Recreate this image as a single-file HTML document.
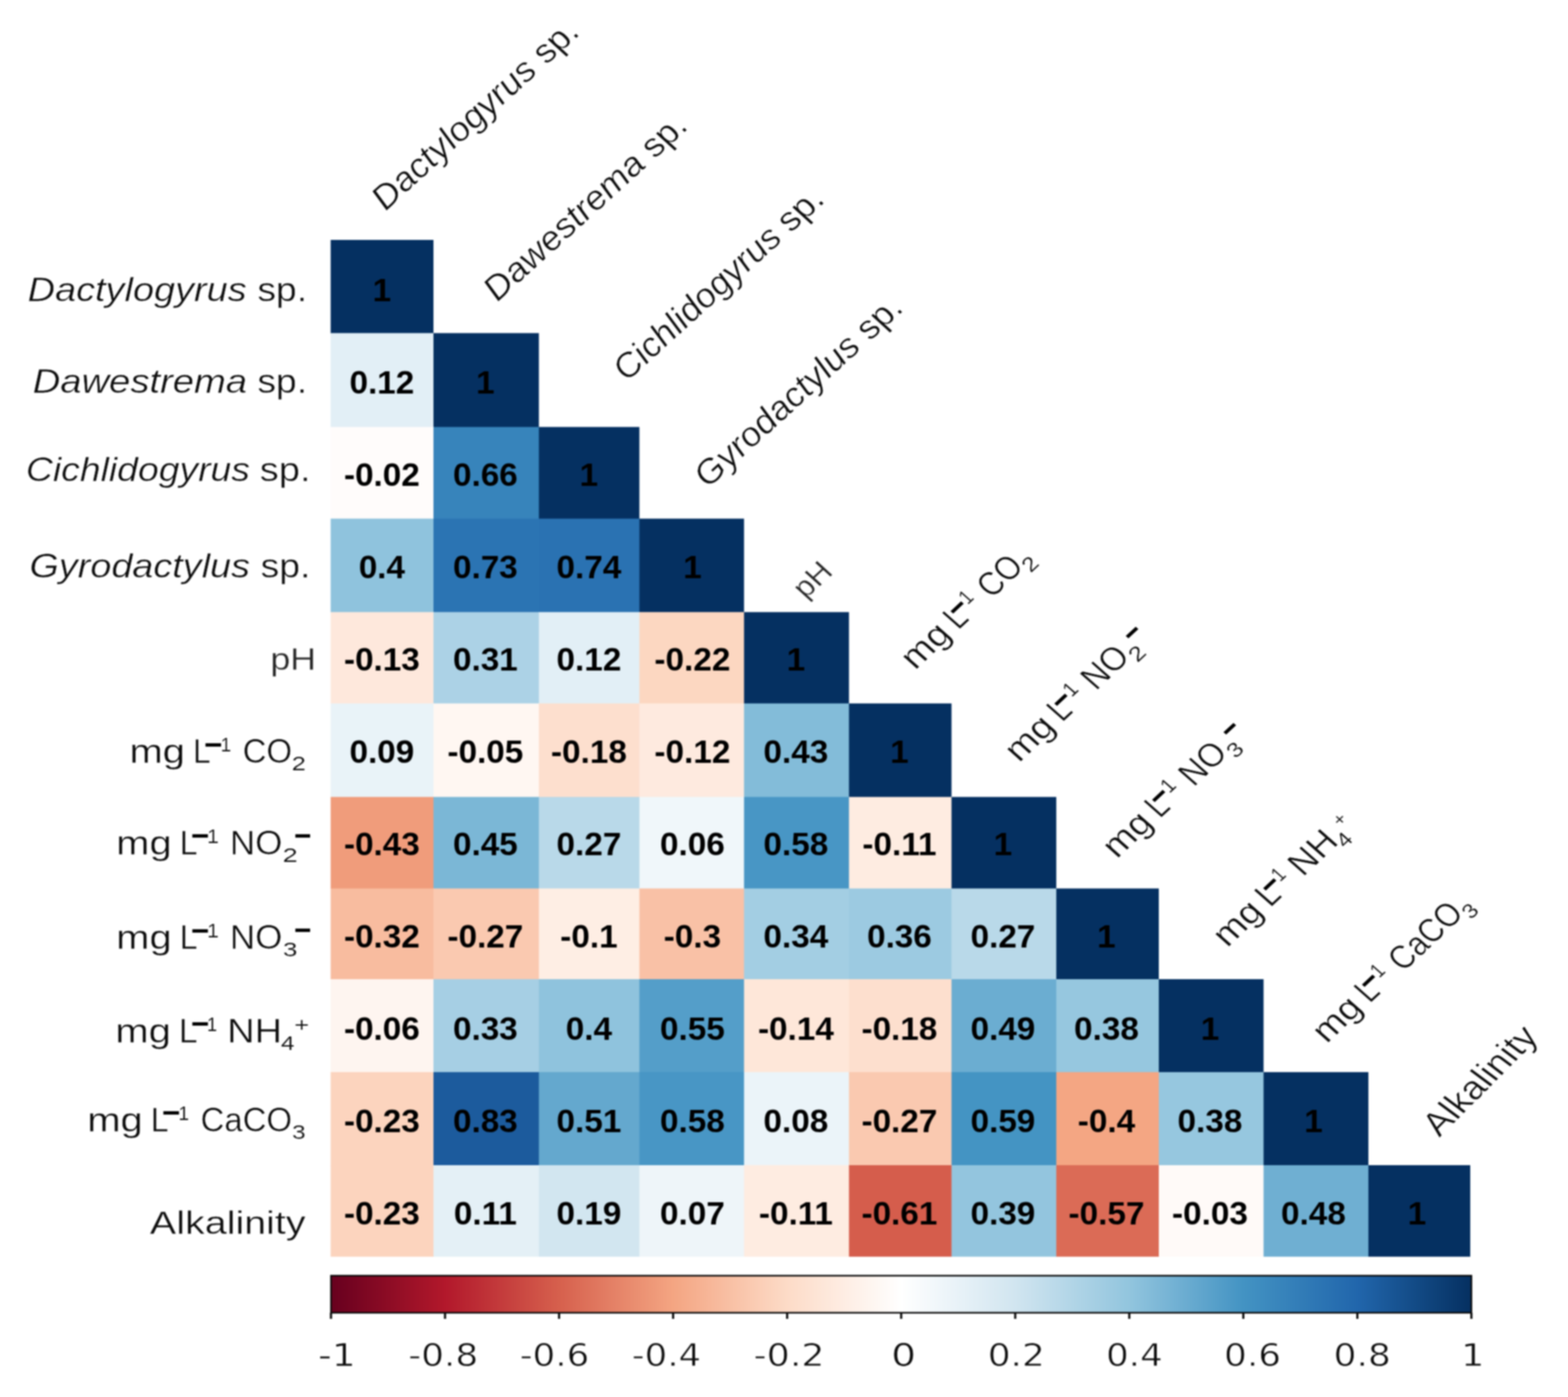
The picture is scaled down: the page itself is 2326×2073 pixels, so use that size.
<!DOCTYPE html>
<html lang="en">
<head>
<meta charset="utf-8">
<title>Correlation matrix</title>
<style>
html,body{margin:0;padding:0;background:#fff;}
body{width:2326px;height:2073px;overflow:hidden;}
svg{display:block;filter:blur(1px);}
text{white-space:pre;}
</style>
</head>
<body>
<svg width="2326" height="2073" viewBox="0 0 2326 2073" role="img" aria-label="Correlation matrix">
<rect width="2326" height="2073" fill="#ffffff"/>
<g>
<rect x="490.5" y="356" width="152.5" height="138.9" fill="#053061"/>
<rect x="490.5" y="494.3" width="153.1" height="139.9" fill="#e2eff6"/>
<rect x="643" y="494.3" width="156.4" height="139.9" fill="#053061"/>
<rect x="490.5" y="633.6" width="153.1" height="136.6" fill="#fffcfb"/>
<rect x="643" y="633.6" width="157" height="136.6" fill="#3784bb"/>
<rect x="799.4" y="633.6" width="149.1" height="136.6" fill="#053061"/>
<rect x="490.5" y="769.6" width="153.1" height="139.3" fill="#8fc3dd"/>
<rect x="643" y="769.6" width="157" height="139.3" fill="#2b74b3"/>
<rect x="799.4" y="769.6" width="149.7" height="139.3" fill="#2a72b2"/>
<rect x="948.5" y="769.6" width="155.2" height="139.3" fill="#053061"/>
<rect x="490.5" y="908.3" width="153.1" height="136.1" fill="#fee8dc"/>
<rect x="643" y="908.3" width="157" height="136.1" fill="#acd2e6"/>
<rect x="799.4" y="908.3" width="149.7" height="136.1" fill="#e2eff6"/>
<rect x="948.5" y="908.3" width="155.8" height="136.1" fill="#fcd7c1"/>
<rect x="1103.7" y="908.3" width="155.7" height="136.1" fill="#053061"/>
<rect x="490.5" y="1043.8" width="153.1" height="139.4" fill="#e9f3f8"/>
<rect x="643" y="1043.8" width="157" height="139.4" fill="#fff7f2"/>
<rect x="799.4" y="1043.8" width="149.7" height="139.4" fill="#fddfce"/>
<rect x="948.5" y="1043.8" width="155.8" height="139.4" fill="#feeadf"/>
<rect x="1103.7" y="1043.8" width="156.3" height="139.4" fill="#83bcd9"/>
<rect x="1259.4" y="1043.8" width="152.1" height="139.4" fill="#053061"/>
<rect x="490.5" y="1182.6" width="153.1" height="136.4" fill="#f09c7b"/>
<rect x="643" y="1182.6" width="157" height="136.4" fill="#7bb7d6"/>
<rect x="799.4" y="1182.6" width="149.7" height="136.4" fill="#b9d9e9"/>
<rect x="948.5" y="1182.6" width="155.8" height="136.4" fill="#f0f7fa"/>
<rect x="1103.7" y="1182.6" width="156.3" height="136.4" fill="#4896c5"/>
<rect x="1259.4" y="1182.6" width="152.7" height="136.4" fill="#feece1"/>
<rect x="1411.5" y="1182.6" width="155.4" height="136.4" fill="#053061"/>
<rect x="490.5" y="1318.4" width="153.1" height="135.2" fill="#f8bc9f"/>
<rect x="643" y="1318.4" width="157" height="135.2" fill="#fac9b0"/>
<rect x="799.4" y="1318.4" width="149.7" height="135.2" fill="#feeee4"/>
<rect x="948.5" y="1318.4" width="155.8" height="135.2" fill="#f9c1a6"/>
<rect x="1103.7" y="1318.4" width="156.3" height="135.2" fill="#a3cee3"/>
<rect x="1259.4" y="1318.4" width="152.7" height="135.2" fill="#9ccae1"/>
<rect x="1411.5" y="1318.4" width="156" height="135.2" fill="#b9d9e9"/>
<rect x="1566.9" y="1318.4" width="152.1" height="135.2" fill="#053061"/>
<rect x="490.5" y="1453" width="153.1" height="138.5" fill="#fef5f0"/>
<rect x="643" y="1453" width="157" height="138.5" fill="#a6cfe4"/>
<rect x="799.4" y="1453" width="149.7" height="138.5" fill="#8fc3dd"/>
<rect x="948.5" y="1453" width="155.8" height="138.5" fill="#549ec9"/>
<rect x="1103.7" y="1453" width="156.3" height="138.5" fill="#fee7d9"/>
<rect x="1259.4" y="1453" width="152.7" height="138.5" fill="#fddfce"/>
<rect x="1411.5" y="1453" width="156" height="138.5" fill="#6badd1"/>
<rect x="1566.9" y="1453" width="152.7" height="138.5" fill="#96c7df"/>
<rect x="1719" y="1453" width="155.4" height="138.5" fill="#053061"/>
<rect x="490.5" y="1590.9" width="153.1" height="138.7" fill="#fcd4be"/>
<rect x="643" y="1590.9" width="157" height="138.7" fill="#1c5b9d"/>
<rect x="799.4" y="1590.9" width="149.7" height="138.7" fill="#64a8ce"/>
<rect x="948.5" y="1590.9" width="155.8" height="138.7" fill="#4896c5"/>
<rect x="1103.7" y="1590.9" width="156.3" height="138.7" fill="#ebf4f9"/>
<rect x="1259.4" y="1590.9" width="152.7" height="138.7" fill="#fac9b0"/>
<rect x="1411.5" y="1590.9" width="156" height="138.7" fill="#4494c3"/>
<rect x="1566.9" y="1590.9" width="152.7" height="138.7" fill="#f4a683"/>
<rect x="1719" y="1590.9" width="156" height="138.7" fill="#96c7df"/>
<rect x="1874.4" y="1590.9" width="155.5" height="138.7" fill="#053061"/>
<rect x="490.5" y="1729" width="153.1" height="135.8" fill="#fcd4be"/>
<rect x="643" y="1729" width="157" height="135.8" fill="#e4f0f6"/>
<rect x="799.4" y="1729" width="149.7" height="135.8" fill="#d2e6f0"/>
<rect x="948.5" y="1729" width="155.8" height="135.8" fill="#eef5f9"/>
<rect x="1103.7" y="1729" width="156.3" height="135.8" fill="#feece1"/>
<rect x="1259.4" y="1729" width="152.7" height="135.8" fill="#d55d4c"/>
<rect x="1411.5" y="1729" width="156" height="135.8" fill="#93c5de"/>
<rect x="1566.9" y="1729" width="152.7" height="135.8" fill="#db6b56"/>
<rect x="1719" y="1729" width="156" height="135.8" fill="#fffaf8"/>
<rect x="1874.4" y="1729" width="156.1" height="135.8" fill="#6fafd2"/>
<rect x="2029.9" y="1729" width="151.1" height="135.8" fill="#053061"/>
</g>
<g>
<text transform="translate(552.76 447.4) scale(1.0400 1)" style="font-family:'Liberation Sans', Arial, sans-serif;font-size:47.5px;font-weight:bold;font-style:normal" fill="#000000">1</text>
<text transform="translate(518.42 584.4) scale(1.0400 1)" style="font-family:'Liberation Sans', Arial, sans-serif;font-size:47.5px;font-weight:bold;font-style:normal" fill="#000000">0.12</text>
<text transform="translate(706.31 584.4) scale(1.0400 1)" style="font-family:'Liberation Sans', Arial, sans-serif;font-size:47.5px;font-weight:bold;font-style:normal" fill="#000000">1</text>
<text transform="translate(510.2 721.4) scale(1.0400 1)" style="font-family:'Liberation Sans', Arial, sans-serif;font-size:47.5px;font-weight:bold;font-style:normal" fill="#000000">-0.02</text>
<text transform="translate(671.97 721.4) scale(1.0400 1)" style="font-family:'Liberation Sans', Arial, sans-serif;font-size:47.5px;font-weight:bold;font-style:normal" fill="#000000">0.66</text>
<text transform="translate(859.86 721.4) scale(1.0400 1)" style="font-family:'Liberation Sans', Arial, sans-serif;font-size:47.5px;font-weight:bold;font-style:normal" fill="#000000">1</text>
<text transform="translate(532.16 858.4) scale(1.0400 1)" style="font-family:'Liberation Sans', Arial, sans-serif;font-size:47.5px;font-weight:bold;font-style:normal" fill="#000000">0.4</text>
<text transform="translate(671.97 858.4) scale(1.0400 1)" style="font-family:'Liberation Sans', Arial, sans-serif;font-size:47.5px;font-weight:bold;font-style:normal" fill="#000000">0.73</text>
<text transform="translate(825.52 858.4) scale(1.0400 1)" style="font-family:'Liberation Sans', Arial, sans-serif;font-size:47.5px;font-weight:bold;font-style:normal" fill="#000000">0.74</text>
<text transform="translate(1013.41 858.4) scale(1.0400 1)" style="font-family:'Liberation Sans', Arial, sans-serif;font-size:47.5px;font-weight:bold;font-style:normal" fill="#000000">1</text>
<text transform="translate(510.2 995.4) scale(1.0400 1)" style="font-family:'Liberation Sans', Arial, sans-serif;font-size:47.5px;font-weight:bold;font-style:normal" fill="#000000">-0.13</text>
<text transform="translate(671.97 995.4) scale(1.0400 1)" style="font-family:'Liberation Sans', Arial, sans-serif;font-size:47.5px;font-weight:bold;font-style:normal" fill="#000000">0.31</text>
<text transform="translate(825.52 995.4) scale(1.0400 1)" style="font-family:'Liberation Sans', Arial, sans-serif;font-size:47.5px;font-weight:bold;font-style:normal" fill="#000000">0.12</text>
<text transform="translate(970.85 995.4) scale(1.0400 1)" style="font-family:'Liberation Sans', Arial, sans-serif;font-size:47.5px;font-weight:bold;font-style:normal" fill="#000000">-0.22</text>
<text transform="translate(1166.96 995.4) scale(1.0400 1)" style="font-family:'Liberation Sans', Arial, sans-serif;font-size:47.5px;font-weight:bold;font-style:normal" fill="#000000">1</text>
<text transform="translate(518.42 1132.4) scale(1.0400 1)" style="font-family:'Liberation Sans', Arial, sans-serif;font-size:47.5px;font-weight:bold;font-style:normal" fill="#000000">0.09</text>
<text transform="translate(663.75 1132.4) scale(1.0400 1)" style="font-family:'Liberation Sans', Arial, sans-serif;font-size:47.5px;font-weight:bold;font-style:normal" fill="#000000">-0.05</text>
<text transform="translate(817.3 1132.4) scale(1.0400 1)" style="font-family:'Liberation Sans', Arial, sans-serif;font-size:47.5px;font-weight:bold;font-style:normal" fill="#000000">-0.18</text>
<text transform="translate(970.85 1132.4) scale(1.0400 1)" style="font-family:'Liberation Sans', Arial, sans-serif;font-size:47.5px;font-weight:bold;font-style:normal" fill="#000000">-0.12</text>
<text transform="translate(1132.62 1132.4) scale(1.0400 1)" style="font-family:'Liberation Sans', Arial, sans-serif;font-size:47.5px;font-weight:bold;font-style:normal" fill="#000000">0.43</text>
<text transform="translate(1320.51 1132.4) scale(1.0400 1)" style="font-family:'Liberation Sans', Arial, sans-serif;font-size:47.5px;font-weight:bold;font-style:normal" fill="#000000">1</text>
<text transform="translate(510.2 1269.4) scale(1.0400 1)" style="font-family:'Liberation Sans', Arial, sans-serif;font-size:47.5px;font-weight:bold;font-style:normal" fill="#000000">-0.43</text>
<text transform="translate(671.97 1269.4) scale(1.0400 1)" style="font-family:'Liberation Sans', Arial, sans-serif;font-size:47.5px;font-weight:bold;font-style:normal" fill="#000000">0.45</text>
<text transform="translate(825.52 1269.4) scale(1.0400 1)" style="font-family:'Liberation Sans', Arial, sans-serif;font-size:47.5px;font-weight:bold;font-style:normal" fill="#000000">0.27</text>
<text transform="translate(979.07 1269.4) scale(1.0400 1)" style="font-family:'Liberation Sans', Arial, sans-serif;font-size:47.5px;font-weight:bold;font-style:normal" fill="#000000">0.06</text>
<text transform="translate(1132.62 1269.4) scale(1.0400 1)" style="font-family:'Liberation Sans', Arial, sans-serif;font-size:47.5px;font-weight:bold;font-style:normal" fill="#000000">0.58</text>
<text transform="translate(1279.31 1269.4) scale(1.0400 1)" style="font-family:'Liberation Sans', Arial, sans-serif;font-size:47.5px;font-weight:bold;font-style:normal" fill="#000000">-0.11</text>
<text transform="translate(1474.06 1269.4) scale(1.0400 1)" style="font-family:'Liberation Sans', Arial, sans-serif;font-size:47.5px;font-weight:bold;font-style:normal" fill="#000000">1</text>
<text transform="translate(510.2 1406.4) scale(1.0400 1)" style="font-family:'Liberation Sans', Arial, sans-serif;font-size:47.5px;font-weight:bold;font-style:normal" fill="#000000">-0.32</text>
<text transform="translate(663.75 1406.4) scale(1.0400 1)" style="font-family:'Liberation Sans', Arial, sans-serif;font-size:47.5px;font-weight:bold;font-style:normal" fill="#000000">-0.27</text>
<text transform="translate(831.04 1406.4) scale(1.0400 1)" style="font-family:'Liberation Sans', Arial, sans-serif;font-size:47.5px;font-weight:bold;font-style:normal" fill="#000000">-0.1</text>
<text transform="translate(984.59 1406.4) scale(1.0400 1)" style="font-family:'Liberation Sans', Arial, sans-serif;font-size:47.5px;font-weight:bold;font-style:normal" fill="#000000">-0.3</text>
<text transform="translate(1132.62 1406.4) scale(1.0400 1)" style="font-family:'Liberation Sans', Arial, sans-serif;font-size:47.5px;font-weight:bold;font-style:normal" fill="#000000">0.34</text>
<text transform="translate(1286.17 1406.4) scale(1.0400 1)" style="font-family:'Liberation Sans', Arial, sans-serif;font-size:47.5px;font-weight:bold;font-style:normal" fill="#000000">0.36</text>
<text transform="translate(1439.72 1406.4) scale(1.0400 1)" style="font-family:'Liberation Sans', Arial, sans-serif;font-size:47.5px;font-weight:bold;font-style:normal" fill="#000000">0.27</text>
<text transform="translate(1627.61 1406.4) scale(1.0400 1)" style="font-family:'Liberation Sans', Arial, sans-serif;font-size:47.5px;font-weight:bold;font-style:normal" fill="#000000">1</text>
<text transform="translate(510.2 1543.4) scale(1.0400 1)" style="font-family:'Liberation Sans', Arial, sans-serif;font-size:47.5px;font-weight:bold;font-style:normal" fill="#000000">-0.06</text>
<text transform="translate(671.97 1543.4) scale(1.0400 1)" style="font-family:'Liberation Sans', Arial, sans-serif;font-size:47.5px;font-weight:bold;font-style:normal" fill="#000000">0.33</text>
<text transform="translate(839.26 1543.4) scale(1.0400 1)" style="font-family:'Liberation Sans', Arial, sans-serif;font-size:47.5px;font-weight:bold;font-style:normal" fill="#000000">0.4</text>
<text transform="translate(979.07 1543.4) scale(1.0400 1)" style="font-family:'Liberation Sans', Arial, sans-serif;font-size:47.5px;font-weight:bold;font-style:normal" fill="#000000">0.55</text>
<text transform="translate(1124.4 1543.4) scale(1.0400 1)" style="font-family:'Liberation Sans', Arial, sans-serif;font-size:47.5px;font-weight:bold;font-style:normal" fill="#000000">-0.14</text>
<text transform="translate(1277.95 1543.4) scale(1.0400 1)" style="font-family:'Liberation Sans', Arial, sans-serif;font-size:47.5px;font-weight:bold;font-style:normal" fill="#000000">-0.18</text>
<text transform="translate(1439.72 1543.4) scale(1.0400 1)" style="font-family:'Liberation Sans', Arial, sans-serif;font-size:47.5px;font-weight:bold;font-style:normal" fill="#000000">0.49</text>
<text transform="translate(1593.27 1543.4) scale(1.0400 1)" style="font-family:'Liberation Sans', Arial, sans-serif;font-size:47.5px;font-weight:bold;font-style:normal" fill="#000000">0.38</text>
<text transform="translate(1781.16 1543.4) scale(1.0400 1)" style="font-family:'Liberation Sans', Arial, sans-serif;font-size:47.5px;font-weight:bold;font-style:normal" fill="#000000">1</text>
<text transform="translate(510.2 1680.4) scale(1.0400 1)" style="font-family:'Liberation Sans', Arial, sans-serif;font-size:47.5px;font-weight:bold;font-style:normal" fill="#000000">-0.23</text>
<text transform="translate(671.97 1680.4) scale(1.0400 1)" style="font-family:'Liberation Sans', Arial, sans-serif;font-size:47.5px;font-weight:bold;font-style:normal" fill="#000000">0.83</text>
<text transform="translate(825.52 1680.4) scale(1.0400 1)" style="font-family:'Liberation Sans', Arial, sans-serif;font-size:47.5px;font-weight:bold;font-style:normal" fill="#000000">0.51</text>
<text transform="translate(979.07 1680.4) scale(1.0400 1)" style="font-family:'Liberation Sans', Arial, sans-serif;font-size:47.5px;font-weight:bold;font-style:normal" fill="#000000">0.58</text>
<text transform="translate(1132.62 1680.4) scale(1.0400 1)" style="font-family:'Liberation Sans', Arial, sans-serif;font-size:47.5px;font-weight:bold;font-style:normal" fill="#000000">0.08</text>
<text transform="translate(1277.95 1680.4) scale(1.0400 1)" style="font-family:'Liberation Sans', Arial, sans-serif;font-size:47.5px;font-weight:bold;font-style:normal" fill="#000000">-0.27</text>
<text transform="translate(1439.72 1680.4) scale(1.0400 1)" style="font-family:'Liberation Sans', Arial, sans-serif;font-size:47.5px;font-weight:bold;font-style:normal" fill="#000000">0.59</text>
<text transform="translate(1598.79 1680.4) scale(1.0400 1)" style="font-family:'Liberation Sans', Arial, sans-serif;font-size:47.5px;font-weight:bold;font-style:normal" fill="#000000">-0.4</text>
<text transform="translate(1746.82 1680.4) scale(1.0400 1)" style="font-family:'Liberation Sans', Arial, sans-serif;font-size:47.5px;font-weight:bold;font-style:normal" fill="#000000">0.38</text>
<text transform="translate(1934.71 1680.4) scale(1.0400 1)" style="font-family:'Liberation Sans', Arial, sans-serif;font-size:47.5px;font-weight:bold;font-style:normal" fill="#000000">1</text>
<text transform="translate(510.2 1817.4) scale(1.0400 1)" style="font-family:'Liberation Sans', Arial, sans-serif;font-size:47.5px;font-weight:bold;font-style:normal" fill="#000000">-0.23</text>
<text transform="translate(673.34 1817.4) scale(1.0400 1)" style="font-family:'Liberation Sans', Arial, sans-serif;font-size:47.5px;font-weight:bold;font-style:normal" fill="#000000">0.11</text>
<text transform="translate(825.52 1817.4) scale(1.0400 1)" style="font-family:'Liberation Sans', Arial, sans-serif;font-size:47.5px;font-weight:bold;font-style:normal" fill="#000000">0.19</text>
<text transform="translate(979.07 1817.4) scale(1.0400 1)" style="font-family:'Liberation Sans', Arial, sans-serif;font-size:47.5px;font-weight:bold;font-style:normal" fill="#000000">0.07</text>
<text transform="translate(1125.76 1817.4) scale(1.0400 1)" style="font-family:'Liberation Sans', Arial, sans-serif;font-size:47.5px;font-weight:bold;font-style:normal" fill="#000000">-0.11</text>
<text transform="translate(1277.95 1817.4) scale(1.0400 1)" style="font-family:'Liberation Sans', Arial, sans-serif;font-size:47.5px;font-weight:bold;font-style:normal" fill="#000000">-0.61</text>
<text transform="translate(1439.72 1817.4) scale(1.0400 1)" style="font-family:'Liberation Sans', Arial, sans-serif;font-size:47.5px;font-weight:bold;font-style:normal" fill="#000000">0.39</text>
<text transform="translate(1585.05 1817.4) scale(1.0400 1)" style="font-family:'Liberation Sans', Arial, sans-serif;font-size:47.5px;font-weight:bold;font-style:normal" fill="#000000">-0.57</text>
<text transform="translate(1738.6 1817.4) scale(1.0400 1)" style="font-family:'Liberation Sans', Arial, sans-serif;font-size:47.5px;font-weight:bold;font-style:normal" fill="#000000">-0.03</text>
<text transform="translate(1900.37 1817.4) scale(1.0400 1)" style="font-family:'Liberation Sans', Arial, sans-serif;font-size:47.5px;font-weight:bold;font-style:normal" fill="#000000">0.48</text>
<text transform="translate(2088.26 1817.4) scale(1.0400 1)" style="font-family:'Liberation Sans', Arial, sans-serif;font-size:47.5px;font-weight:bold;font-style:normal" fill="#000000">1</text>
</g>
<defs><linearGradient id="rb" x1="0" y1="0" x2="1" y2="0">
<stop offset="0" stop-color="#67001F"/>
<stop offset="0.1" stop-color="#B2182B"/>
<stop offset="0.2" stop-color="#D6604D"/>
<stop offset="0.3" stop-color="#F4A582"/>
<stop offset="0.4" stop-color="#FDDBC7"/>
<stop offset="0.5" stop-color="#FFFFFF"/>
<stop offset="0.6" stop-color="#D1E5F0"/>
<stop offset="0.7" stop-color="#92C5DE"/>
<stop offset="0.8" stop-color="#4393C3"/>
<stop offset="0.9" stop-color="#2166AC"/>
<stop offset="1" stop-color="#053061"/>
</linearGradient></defs>
<rect x="491" y="1893" width="1691.7" height="55" fill="url(#rb)" stroke="#0a0a0a" stroke-width="2.4"/>
<line x1="491" y1="1948" x2="491" y2="1957" stroke="#0a0a0a" stroke-width="3.2"/>
<text transform="translate(471.79 2027.4) scale(1.1970 1)" style="font-family:'DejaVu Sans', Verdana, sans-serif;font-size:47px;font-weight:normal;font-style:normal" fill="#0d0d0d" stroke="#ffffff" stroke-width="0.75" stroke-linejoin="round">-1</text>
<line x1="660.17" y1="1948" x2="660.17" y2="1957" stroke="#0a0a0a" stroke-width="3.2"/>
<text transform="translate(605.43 2027.4) scale(1.1355 1)" style="font-family:'DejaVu Sans', Verdana, sans-serif;font-size:47px;font-weight:normal;font-style:normal" fill="#0d0d0d" stroke="#ffffff" stroke-width="0.79" stroke-linejoin="round">-0.8</text>
<line x1="829.34" y1="1948" x2="829.34" y2="1957" stroke="#0a0a0a" stroke-width="3.2"/>
<text transform="translate(770.96 2027.4) scale(1.1255 1)" style="font-family:'DejaVu Sans', Verdana, sans-serif;font-size:47px;font-weight:normal;font-style:normal" fill="#0d0d0d" stroke="#ffffff" stroke-width="0.8" stroke-linejoin="round">-0.6</text>
<line x1="998.51" y1="1948" x2="998.51" y2="1957" stroke="#0a0a0a" stroke-width="3.2"/>
<text transform="translate(937.37 2027.4) scale(1.1209 1)" style="font-family:'DejaVu Sans', Verdana, sans-serif;font-size:47px;font-weight:normal;font-style:normal" fill="#0d0d0d" stroke="#ffffff" stroke-width="0.8" stroke-linejoin="round">-0.4</text>
<line x1="1167.68" y1="1948" x2="1167.68" y2="1957" stroke="#0a0a0a" stroke-width="3.2"/>
<text transform="translate(1117.8 2027.4) scale(1.1489 1)" style="font-family:'DejaVu Sans', Verdana, sans-serif;font-size:47px;font-weight:normal;font-style:normal" fill="#0d0d0d" stroke="#ffffff" stroke-width="0.78" stroke-linejoin="round">-0.2</text>
<line x1="1336.85" y1="1948" x2="1336.85" y2="1957" stroke="#0a0a0a" stroke-width="3.2"/>
<text transform="translate(1321.93 2027.4) scale(1.2345 1)" style="font-family:'DejaVu Sans', Verdana, sans-serif;font-size:47px;font-weight:normal;font-style:normal" fill="#0d0d0d" stroke="#ffffff" stroke-width="0.73" stroke-linejoin="round">0</text>
<line x1="1506.02" y1="1948" x2="1506.02" y2="1957" stroke="#0a0a0a" stroke-width="3.2"/>
<text transform="translate(1465.13 2027.4) scale(1.1362 1)" style="font-family:'DejaVu Sans', Verdana, sans-serif;font-size:47px;font-weight:normal;font-style:normal" fill="#0d0d0d" stroke="#ffffff" stroke-width="0.79" stroke-linejoin="round">0.2</text>
<line x1="1675.19" y1="1948" x2="1675.19" y2="1957" stroke="#0a0a0a" stroke-width="3.2"/>
<text transform="translate(1640.66 2027.4) scale(1.1261 1)" style="font-family:'DejaVu Sans', Verdana, sans-serif;font-size:47px;font-weight:normal;font-style:normal" fill="#0d0d0d" stroke="#ffffff" stroke-width="0.8" stroke-linejoin="round">0.4</text>
<line x1="1844.36" y1="1948" x2="1844.36" y2="1957" stroke="#0a0a0a" stroke-width="3.2"/>
<text transform="translate(1815.85 2027.4) scale(1.1304 1)" style="font-family:'DejaVu Sans', Verdana, sans-serif;font-size:47px;font-weight:normal;font-style:normal" fill="#0d0d0d" stroke="#ffffff" stroke-width="0.8" stroke-linejoin="round">0.6</text>
<line x1="2013.53" y1="1948" x2="2013.53" y2="1957" stroke="#0a0a0a" stroke-width="3.2"/>
<text transform="translate(1978.33 2027.4) scale(1.1357 1)" style="font-family:'DejaVu Sans', Verdana, sans-serif;font-size:47px;font-weight:normal;font-style:normal" fill="#0d0d0d" stroke="#ffffff" stroke-width="0.79" stroke-linejoin="round">0.8</text>
<line x1="2182.7" y1="1948" x2="2182.7" y2="1957" stroke="#0a0a0a" stroke-width="3.2"/>
<text transform="translate(2167.18 2027.4) scale(1.1641 1)" style="font-family:'DejaVu Sans', Verdana, sans-serif;font-size:47px;font-weight:normal;font-style:normal" fill="#0d0d0d" stroke="#ffffff" stroke-width="0.77" stroke-linejoin="round">1</text>
<g transform="translate(0 447.3)">
<text transform="translate(41.11 0) scale(1.1353 1)" style="font-family:'Liberation Sans', Arial, sans-serif;font-size:49.5px;font-weight:normal;font-style:italic" fill="#0d0d0d" stroke="#ffffff" stroke-width="0.53" stroke-linejoin="round">Dactylogyrus</text><text transform="translate(381.68 0) scale(1.1190 1)" style="font-family:'Liberation Sans', Arial, sans-serif;font-size:49.5px;font-weight:normal;font-style:normal" fill="#0d0d0d" stroke="#ffffff" stroke-width="0.54" stroke-linejoin="round">sp.</text>
</g>
<g transform="translate(0 583.2)">
<text transform="translate(48.5 0) scale(1.1451 1)" style="font-family:'Liberation Sans', Arial, sans-serif;font-size:49.5px;font-weight:normal;font-style:italic" fill="#0d0d0d" stroke="#ffffff" stroke-width="0.52" stroke-linejoin="round">Dawestrema</text><text transform="translate(381.68 0) scale(1.1190 1)" style="font-family:'Liberation Sans', Arial, sans-serif;font-size:49.5px;font-weight:normal;font-style:normal" fill="#0d0d0d" stroke="#ffffff" stroke-width="0.54" stroke-linejoin="round">sp.</text>
</g>
<g transform="translate(0 714.2)">
<text transform="translate(38.56 0) scale(1.1182 1)" style="font-family:'Liberation Sans', Arial, sans-serif;font-size:49.5px;font-weight:normal;font-style:italic" fill="#0d0d0d" stroke="#ffffff" stroke-width="0.54" stroke-linejoin="round">Cichlidogyrus</text><text transform="translate(385.35 0) scale(1.1390 1)" style="font-family:'Liberation Sans', Arial, sans-serif;font-size:49.5px;font-weight:normal;font-style:normal" fill="#0d0d0d" stroke="#ffffff" stroke-width="0.53" stroke-linejoin="round">sp.</text>
</g>
<g transform="translate(0 856.7)">
<text transform="translate(43.7 0) scale(1.1326 1)" style="font-family:'Liberation Sans', Arial, sans-serif;font-size:49.5px;font-weight:normal;font-style:italic" fill="#0d0d0d" stroke="#ffffff" stroke-width="0.53" stroke-linejoin="round">Gyrodactylus</text><text transform="translate(386.58 0) scale(1.1190 1)" style="font-family:'Liberation Sans', Arial, sans-serif;font-size:49.5px;font-weight:normal;font-style:normal" fill="#0d0d0d" stroke="#ffffff" stroke-width="0.54" stroke-linejoin="round">sp.</text>
</g>
<g transform="translate(0 993.8)">
<text transform="translate(400.94 0) scale(1.1335 1)" style="font-family:'Liberation Sans', Arial, sans-serif;font-size:47px;font-weight:normal;font-style:normal" fill="#262626" stroke="#ffffff" stroke-width="0.48" stroke-linejoin="round">pH</text>
</g>
<g transform="translate(0 1131.8)">
<text transform="translate(191.89 0) scale(1.2001 1)" style="font-family:'Liberation Sans', Arial, sans-serif;font-size:49.5px;font-weight:normal;font-style:normal" fill="#0d0d0d" stroke="#ffffff" stroke-width="0.5" stroke-linejoin="round">mg</text><text transform="translate(286.3 0) scale(0.9550 1)" style="font-family:'Liberation Sans', Arial, sans-serif;font-size:49.5px;font-weight:normal;font-style:normal" fill="#0d0d0d" stroke="#ffffff" stroke-width="0.6" stroke-linejoin="round">L</text><text transform="translate(327.17 -17) scale(0.9480 1)" style="font-family:'Liberation Sans', Arial, sans-serif;font-size:30px;font-weight:normal;font-style:normal" fill="#0d0d0d" stroke="#ffffff" stroke-width="0.22" stroke-linejoin="round">1</text><text transform="translate(359.95 0) scale(0.9881 1)" style="font-family:'Liberation Sans', Arial, sans-serif;font-size:49.5px;font-weight:normal;font-style:normal" fill="#0d0d0d" stroke="#ffffff" stroke-width="0.6" stroke-linejoin="round">CO</text><text transform="translate(432.71 11) scale(1.2601 1)" style="font-family:'Liberation Sans', Arial, sans-serif;font-size:30px;font-weight:normal;font-style:normal" fill="#0d0d0d" stroke="#ffffff" stroke-width="0.17" stroke-linejoin="round">2</text><text transform="translate(301.02 -13.25) scale(0.8403 1)" style="font-family:'DejaVu Sans', Verdana, sans-serif;font-size:44px;font-weight:bold;font-style:normal" fill="#000000">−</text>
</g>
<g transform="translate(0 1267.7)">
<text transform="translate(172.29 0) scale(1.2001 1)" style="font-family:'Liberation Sans', Arial, sans-serif;font-size:49.5px;font-weight:normal;font-style:normal" fill="#0d0d0d" stroke="#ffffff" stroke-width="0.5" stroke-linejoin="round">mg</text><text transform="translate(266.7 0) scale(0.9550 1)" style="font-family:'Liberation Sans', Arial, sans-serif;font-size:49.5px;font-weight:normal;font-style:normal" fill="#0d0d0d" stroke="#ffffff" stroke-width="0.6" stroke-linejoin="round">L</text><text transform="translate(307.36 -17) scale(1.0405 1)" style="font-family:'Liberation Sans', Arial, sans-serif;font-size:30px;font-weight:normal;font-style:normal" fill="#0d0d0d" stroke="#ffffff" stroke-width="0.21" stroke-linejoin="round">1</text><text transform="translate(340.92 0) scale(1.0484 1)" style="font-family:'Liberation Sans', Arial, sans-serif;font-size:49.5px;font-weight:normal;font-style:normal" fill="#0d0d0d" stroke="#ffffff" stroke-width="0.57" stroke-linejoin="round">NO</text><text transform="translate(419.19 11) scale(1.3407 1)" style="font-family:'Liberation Sans', Arial, sans-serif;font-size:30px;font-weight:normal;font-style:normal" fill="#0d0d0d" stroke="#ffffff" stroke-width="0.16" stroke-linejoin="round">2</text><text transform="translate(281.42 -13.25) scale(0.8403 1)" style="font-family:'DejaVu Sans', Verdana, sans-serif;font-size:44px;font-weight:bold;font-style:normal" fill="#000000">−</text><text transform="translate(434.62 -13.75) scale(0.7968 1)" style="font-family:'DejaVu Sans', Verdana, sans-serif;font-size:44px;font-weight:bold;font-style:normal" fill="#000000">−</text>
</g>
<g transform="translate(0 1408)">
<text transform="translate(172.29 0) scale(1.2001 1)" style="font-family:'Liberation Sans', Arial, sans-serif;font-size:49.5px;font-weight:normal;font-style:normal" fill="#0d0d0d" stroke="#ffffff" stroke-width="0.5" stroke-linejoin="round">mg</text><text transform="translate(266.7 0) scale(0.9550 1)" style="font-family:'Liberation Sans', Arial, sans-serif;font-size:49.5px;font-weight:normal;font-style:normal" fill="#0d0d0d" stroke="#ffffff" stroke-width="0.6" stroke-linejoin="round">L</text><text transform="translate(307.36 -17) scale(1.0405 1)" style="font-family:'Liberation Sans', Arial, sans-serif;font-size:30px;font-weight:normal;font-style:normal" fill="#0d0d0d" stroke="#ffffff" stroke-width="0.21" stroke-linejoin="round">1</text><text transform="translate(340.92 0) scale(1.0484 1)" style="font-family:'Liberation Sans', Arial, sans-serif;font-size:49.5px;font-weight:normal;font-style:normal" fill="#0d0d0d" stroke="#ffffff" stroke-width="0.57" stroke-linejoin="round">NO</text><text transform="translate(419.76 11) scale(1.2842 1)" style="font-family:'Liberation Sans', Arial, sans-serif;font-size:30px;font-weight:normal;font-style:normal" fill="#0d0d0d" stroke="#ffffff" stroke-width="0.17" stroke-linejoin="round">3</text><text transform="translate(281.42 -13.25) scale(0.8403 1)" style="font-family:'DejaVu Sans', Verdana, sans-serif;font-size:44px;font-weight:bold;font-style:normal" fill="#000000">−</text><text transform="translate(434.62 -13.75) scale(0.7968 1)" style="font-family:'DejaVu Sans', Verdana, sans-serif;font-size:44px;font-weight:bold;font-style:normal" fill="#000000">−</text>
</g>
<g transform="translate(0 1546.5)">
<text transform="translate(171.09 0) scale(1.2001 1)" style="font-family:'Liberation Sans', Arial, sans-serif;font-size:49.5px;font-weight:normal;font-style:normal" fill="#0d0d0d" stroke="#ffffff" stroke-width="0.5" stroke-linejoin="round">mg</text><text transform="translate(265.16 0) scale(1.0147 1)" style="font-family:'Liberation Sans', Arial, sans-serif;font-size:49.5px;font-weight:normal;font-style:normal" fill="#0d0d0d" stroke="#ffffff" stroke-width="0.59" stroke-linejoin="round">L</text><text transform="translate(306.95 -17) scale(0.9094 1)" style="font-family:'Liberation Sans', Arial, sans-serif;font-size:30px;font-weight:normal;font-style:normal" fill="#0d0d0d" stroke="#ffffff" stroke-width="0.22" stroke-linejoin="round">1</text><text transform="translate(336.95 0) scale(1.1395 1)" style="font-family:'Liberation Sans', Arial, sans-serif;font-size:49.5px;font-weight:normal;font-style:normal" fill="#0d0d0d" stroke="#ffffff" stroke-width="0.53" stroke-linejoin="round">NH</text><text transform="translate(416.68 11) scale(1.2079 1)" style="font-family:'Liberation Sans', Arial, sans-serif;font-size:30px;font-weight:normal;font-style:normal" fill="#0d0d0d" stroke="#ffffff" stroke-width="0.18" stroke-linejoin="round">4</text><text transform="translate(436.4 -16) scale(1.2646 1)" style="font-family:'Liberation Sans', Arial, sans-serif;font-size:30px;font-weight:normal;font-style:normal" fill="#0d0d0d" stroke="#ffffff" stroke-width="0.17" stroke-linejoin="round">+</text><text transform="translate(281.42 -13.25) scale(0.8403 1)" style="font-family:'DejaVu Sans', Verdana, sans-serif;font-size:44px;font-weight:bold;font-style:normal" fill="#000000">−</text>
</g>
<g transform="translate(0 1678.7)">
<text transform="translate(129.39 0) scale(1.2001 1)" style="font-family:'Liberation Sans', Arial, sans-serif;font-size:49.5px;font-weight:normal;font-style:normal" fill="#0d0d0d" stroke="#ffffff" stroke-width="0.5" stroke-linejoin="round">mg</text><text transform="translate(223.8 0) scale(0.9550 1)" style="font-family:'Liberation Sans', Arial, sans-serif;font-size:49.5px;font-weight:normal;font-style:normal" fill="#0d0d0d" stroke="#ffffff" stroke-width="0.6" stroke-linejoin="round">L</text><text transform="translate(264.78 -17) scale(0.9403 1)" style="font-family:'Liberation Sans', Arial, sans-serif;font-size:30px;font-weight:normal;font-style:normal" fill="#0d0d0d" stroke="#ffffff" stroke-width="0.22" stroke-linejoin="round">1</text><text transform="translate(297.56 0) scale(0.9875 1)" style="font-family:'Liberation Sans', Arial, sans-serif;font-size:49.5px;font-weight:normal;font-style:normal" fill="#0d0d0d" stroke="#ffffff" stroke-width="0.6" stroke-linejoin="round">CaCO</text><text transform="translate(433.24 11) scale(1.2070 1)" style="font-family:'Liberation Sans', Arial, sans-serif;font-size:30px;font-weight:normal;font-style:normal" fill="#0d0d0d" stroke="#ffffff" stroke-width="0.18" stroke-linejoin="round">3</text><text transform="translate(238.5 -13.25) scale(0.8439 1)" style="font-family:'DejaVu Sans', Verdana, sans-serif;font-size:44px;font-weight:bold;font-style:normal" fill="#000000">−</text>
</g>
<g transform="translate(0 1830.7)">
<text transform="translate(222.35 0) scale(1.2193 1)" style="font-family:'Liberation Sans', Arial, sans-serif;font-size:48px;font-weight:normal;font-style:normal" fill="#0d0d0d" stroke="#ffffff" stroke-width="0.46" stroke-linejoin="round">Alkalinity</text>
</g>
<g transform="translate(573.4 312.6) scale(1.1 1) rotate(-45)">
<text transform="translate(-1.52 0) scale(1.0209 1)" style="font-family:'Liberation Sans', Arial, sans-serif;font-size:49.5px;font-weight:normal;font-style:italic" fill="#0d0d0d" stroke="#ffffff" stroke-width="0.59" stroke-linejoin="round">Dactylogyrus</text><text transform="translate(304.75 0) scale(1.0063 1)" style="font-family:'Liberation Sans', Arial, sans-serif;font-size:49.5px;font-weight:normal;font-style:normal" fill="#0d0d0d" stroke="#ffffff" stroke-width="0.6" stroke-linejoin="round">sp.</text>
</g>
<g transform="translate(739.3 447.4) scale(1.1 1) rotate(-45)">
<text transform="translate(-1.53 0) scale(1.0298 1)" style="font-family:'Liberation Sans', Arial, sans-serif;font-size:49.5px;font-weight:normal;font-style:italic" fill="#0d0d0d" stroke="#ffffff" stroke-width="0.58" stroke-linejoin="round">Dawestrema</text><text transform="translate(298.09 0) scale(1.0063 1)" style="font-family:'Liberation Sans', Arial, sans-serif;font-size:49.5px;font-weight:normal;font-style:normal" fill="#0d0d0d" stroke="#ffffff" stroke-width="0.6" stroke-linejoin="round">sp.</text>
</g>
<g transform="translate(932.6 564.9) scale(1.1 1) rotate(-45)">
<text transform="translate(-2.74 0) scale(1.0056 1)" style="font-family:'Liberation Sans', Arial, sans-serif;font-size:49.5px;font-weight:normal;font-style:italic" fill="#0d0d0d" stroke="#ffffff" stroke-width="0.6" stroke-linejoin="round">Cichlidogyrus</text><text transform="translate(309.13 0) scale(1.0242 1)" style="font-family:'Liberation Sans', Arial, sans-serif;font-size:49.5px;font-weight:normal;font-style:normal" fill="#0d0d0d" stroke="#ffffff" stroke-width="0.59" stroke-linejoin="round">sp.</text>
</g>
<g transform="translate(1052.6 722.9) scale(1.1 1) rotate(-45)">
<text transform="translate(-2.52 0) scale(1.0185 1)" style="font-family:'Liberation Sans', Arial, sans-serif;font-size:49.5px;font-weight:normal;font-style:italic" fill="#0d0d0d" stroke="#ffffff" stroke-width="0.59" stroke-linejoin="round">Gyrodactylus</text><text transform="translate(305.82 0) scale(1.0063 1)" style="font-family:'Liberation Sans', Arial, sans-serif;font-size:49.5px;font-weight:normal;font-style:normal" fill="#0d0d0d" stroke="#ffffff" stroke-width="0.6" stroke-linejoin="round">sp.</text>
</g>
<g transform="translate(1197 887.5) scale(1.1 1) rotate(-45)">
<text transform="translate(-2.8 0) scale(1.0120 1)" style="font-family:'Liberation Sans', Arial, sans-serif;font-size:42.5px;font-weight:normal;font-style:normal" fill="#262626" stroke="#ffffff" stroke-width="0.44" stroke-linejoin="round">pH</text>
</g>
<g transform="translate(1360.3 992.8) scale(1.1 1) rotate(-45.8)">
<text transform="translate(-3.53 0) scale(1.0576 1)" style="font-family:'Liberation Sans', Arial, sans-serif;font-size:49.5px;font-weight:normal;font-style:normal" fill="#0d0d0d" stroke="#ffffff" stroke-width="0.57" stroke-linejoin="round">mg</text><text transform="translate(79.67 0) scale(0.8416 1)" style="font-family:'Liberation Sans', Arial, sans-serif;font-size:49.5px;font-weight:normal;font-style:normal" fill="#0d0d0d" stroke="#ffffff" stroke-width="0.6" stroke-linejoin="round">L</text><text transform="translate(115.68 -17) scale(0.8354 1)" style="font-family:'Liberation Sans', Arial, sans-serif;font-size:30px;font-weight:normal;font-style:normal" fill="#0d0d0d" stroke="#ffffff" stroke-width="0.22" stroke-linejoin="round">1</text><text transform="translate(144.58 0) scale(0.8708 1)" style="font-family:'Liberation Sans', Arial, sans-serif;font-size:49.5px;font-weight:normal;font-style:normal" fill="#0d0d0d" stroke="#ffffff" stroke-width="0.6" stroke-linejoin="round">CO</text><text transform="translate(208.7 11) scale(1.1105 1)" style="font-family:'Liberation Sans', Arial, sans-serif;font-size:30px;font-weight:normal;font-style:normal" fill="#0d0d0d" stroke="#ffffff" stroke-width="0.2" stroke-linejoin="round">2</text><text transform="translate(89.64 -11.25) scale(0.7405 1)" style="font-family:'DejaVu Sans', Verdana, sans-serif;font-size:44px;font-weight:bold;font-style:normal" fill="#000000">−</text>
</g>
<g transform="translate(1514.5 1129.9) scale(1.1 1) rotate(-45.8)">
<text transform="translate(-3.53 0) scale(1.0576 1)" style="font-family:'Liberation Sans', Arial, sans-serif;font-size:49.5px;font-weight:normal;font-style:normal" fill="#0d0d0d" stroke="#ffffff" stroke-width="0.57" stroke-linejoin="round">mg</text><text transform="translate(79.67 0) scale(0.8416 1)" style="font-family:'Liberation Sans', Arial, sans-serif;font-size:49.5px;font-weight:normal;font-style:normal" fill="#0d0d0d" stroke="#ffffff" stroke-width="0.6" stroke-linejoin="round">L</text><text transform="translate(115.5 -17) scale(0.9170 1)" style="font-family:'Liberation Sans', Arial, sans-serif;font-size:30px;font-weight:normal;font-style:normal" fill="#0d0d0d" stroke="#ffffff" stroke-width="0.22" stroke-linejoin="round">1</text><text transform="translate(145.08 0) scale(0.9240 1)" style="font-family:'Liberation Sans', Arial, sans-serif;font-size:49.5px;font-weight:normal;font-style:normal" fill="#0d0d0d" stroke="#ffffff" stroke-width="0.6" stroke-linejoin="round">NO</text><text transform="translate(214.06 11) scale(1.1815 1)" style="font-family:'Liberation Sans', Arial, sans-serif;font-size:30px;font-weight:normal;font-style:normal" fill="#0d0d0d" stroke="#ffffff" stroke-width="0.19" stroke-linejoin="round">2</text><text transform="translate(89.64 -11.25) scale(0.7405 1)" style="font-family:'DejaVu Sans', Verdana, sans-serif;font-size:44px;font-weight:bold;font-style:normal" fill="#000000">−</text><text transform="translate(228.58 -12.25) scale(0.7022 1)" style="font-family:'DejaVu Sans', Verdana, sans-serif;font-size:44px;font-weight:bold;font-style:normal" fill="#000000">−</text>
</g>
<g transform="translate(1659.5 1272.7) scale(1.1 1) rotate(-45.8)">
<text transform="translate(-3.53 0) scale(1.0576 1)" style="font-family:'Liberation Sans', Arial, sans-serif;font-size:49.5px;font-weight:normal;font-style:normal" fill="#0d0d0d" stroke="#ffffff" stroke-width="0.57" stroke-linejoin="round">mg</text><text transform="translate(79.67 0) scale(0.8416 1)" style="font-family:'Liberation Sans', Arial, sans-serif;font-size:49.5px;font-weight:normal;font-style:normal" fill="#0d0d0d" stroke="#ffffff" stroke-width="0.6" stroke-linejoin="round">L</text><text transform="translate(115.5 -17) scale(0.9170 1)" style="font-family:'Liberation Sans', Arial, sans-serif;font-size:30px;font-weight:normal;font-style:normal" fill="#0d0d0d" stroke="#ffffff" stroke-width="0.22" stroke-linejoin="round">1</text><text transform="translate(145.08 0) scale(0.9240 1)" style="font-family:'Liberation Sans', Arial, sans-serif;font-size:49.5px;font-weight:normal;font-style:normal" fill="#0d0d0d" stroke="#ffffff" stroke-width="0.6" stroke-linejoin="round">NO</text><text transform="translate(214.56 11) scale(1.1318 1)" style="font-family:'Liberation Sans', Arial, sans-serif;font-size:30px;font-weight:normal;font-style:normal" fill="#0d0d0d" stroke="#ffffff" stroke-width="0.19" stroke-linejoin="round">3</text><text transform="translate(89.64 -11.25) scale(0.7405 1)" style="font-family:'DejaVu Sans', Verdana, sans-serif;font-size:44px;font-weight:bold;font-style:normal" fill="#000000">−</text><text transform="translate(228.58 -12.25) scale(0.7022 1)" style="font-family:'DejaVu Sans', Verdana, sans-serif;font-size:44px;font-weight:bold;font-style:normal" fill="#000000">−</text>
</g>
<g transform="translate(1823.3 1404.5) scale(1.1 1) rotate(-45.8)">
<text transform="translate(-3.53 0) scale(1.0576 1)" style="font-family:'Liberation Sans', Arial, sans-serif;font-size:49.5px;font-weight:normal;font-style:normal" fill="#0d0d0d" stroke="#ffffff" stroke-width="0.57" stroke-linejoin="round">mg</text><text transform="translate(79.37 0) scale(0.8942 1)" style="font-family:'Liberation Sans', Arial, sans-serif;font-size:49.5px;font-weight:normal;font-style:normal" fill="#0d0d0d" stroke="#ffffff" stroke-width="0.6" stroke-linejoin="round">L</text><text transform="translate(116.2 -17) scale(0.8015 1)" style="font-family:'Liberation Sans', Arial, sans-serif;font-size:30px;font-weight:normal;font-style:normal" fill="#0d0d0d" stroke="#ffffff" stroke-width="0.22" stroke-linejoin="round">1</text><text transform="translate(142.63 0) scale(1.0043 1)" style="font-family:'Liberation Sans', Arial, sans-serif;font-size:49.5px;font-weight:normal;font-style:normal" fill="#0d0d0d" stroke="#ffffff" stroke-width="0.6" stroke-linejoin="round">NH</text><text transform="translate(212.91 11) scale(1.0645 1)" style="font-family:'Liberation Sans', Arial, sans-serif;font-size:30px;font-weight:normal;font-style:normal" fill="#0d0d0d" stroke="#ffffff" stroke-width="0.21" stroke-linejoin="round">4</text><text transform="translate(231.29 -16) scale(1.0309 1)" style="font-family:'Liberation Sans', Arial, sans-serif;font-size:26px;font-weight:normal;font-style:normal" fill="#0d0d0d" stroke="#ffffff" stroke-width="0.16" stroke-linejoin="round">+</text><text transform="translate(90.7 -11.25) scale(0.7405 1)" style="font-family:'DejaVu Sans', Verdana, sans-serif;font-size:44px;font-weight:bold;font-style:normal" fill="#000000">−</text>
</g>
<g transform="translate(1970.6 1546.9) scale(1.1 1) rotate(-45.8)">
<text transform="translate(-3.53 0) scale(1.0576 1)" style="font-family:'Liberation Sans', Arial, sans-serif;font-size:49.5px;font-weight:normal;font-style:normal" fill="#0d0d0d" stroke="#ffffff" stroke-width="0.57" stroke-linejoin="round">mg</text><text transform="translate(79.67 0) scale(0.8416 1)" style="font-family:'Liberation Sans', Arial, sans-serif;font-size:49.5px;font-weight:normal;font-style:normal" fill="#0d0d0d" stroke="#ffffff" stroke-width="0.6" stroke-linejoin="round">L</text><text transform="translate(115.79 -17) scale(0.8287 1)" style="font-family:'Liberation Sans', Arial, sans-serif;font-size:30px;font-weight:normal;font-style:normal" fill="#0d0d0d" stroke="#ffffff" stroke-width="0.22" stroke-linejoin="round">1</text><text transform="translate(144.67 0) scale(0.8703 1)" style="font-family:'Liberation Sans', Arial, sans-serif;font-size:49.5px;font-weight:normal;font-style:normal" fill="#0d0d0d" stroke="#ffffff" stroke-width="0.6" stroke-linejoin="round">CaCO</text><text transform="translate(264.25 11) scale(1.0637 1)" style="font-family:'Liberation Sans', Arial, sans-serif;font-size:30px;font-weight:normal;font-style:normal" fill="#0d0d0d" stroke="#ffffff" stroke-width="0.21" stroke-linejoin="round">3</text><text transform="translate(89.63 -11.25) scale(0.7437 1)" style="font-family:'DejaVu Sans', Verdana, sans-serif;font-size:44px;font-weight:bold;font-style:normal" fill="#000000">−</text>
</g>
<g transform="translate(2135.4 1688.3) scale(1.16 1) rotate(-49.3)">
<text transform="translate(-0.12 0) scale(1.0168 1)" style="font-family:'Liberation Sans', Arial, sans-serif;font-size:49px;font-weight:normal;font-style:normal" fill="#0d0d0d" stroke="#ffffff" stroke-width="0.58" stroke-linejoin="round">Alkalinity</text>
</g>
</svg>
</body>
</html>
